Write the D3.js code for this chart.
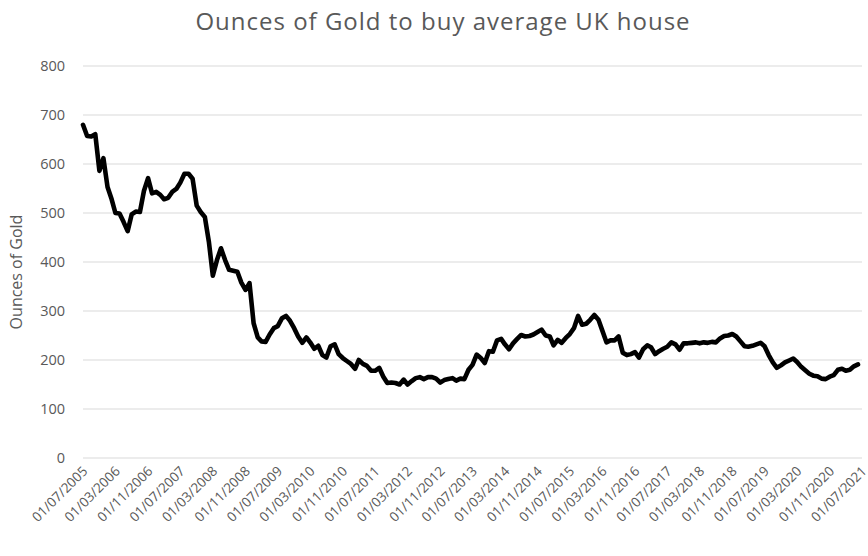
<!DOCTYPE html>
<html>
<head>
<meta charset="utf-8">
<script src="https://cdn.jsdelivr.net/npm/d3@7"></script>
<style>
  html, body { margin: 0; padding: 0; background: #fff; }
  svg { display: block; font-family: "Open Sans", Lato, sans-serif; }
</style>
</head>
<body>
<svg id="chart" width="868" height="556"></svg>
<script>
// Monthly series, first value is July 2005
const startMonth = "2005-07-01";
const ounces = [
  680, 657, 656, 661, 586, 612, 553, 528, 500, 499, 482, 463,
  497, 503, 502, 545, 571, 540, 543, 537, 528, 531, 543, 549,
  562, 580, 580, 570, 515, 502, 492, 440, 372, 404, 428, 404,
  384, 382, 380, 358, 343, 357, 275, 246, 238, 237, 252, 265,
  269, 285, 290, 280, 265, 248, 235, 246, 236, 223, 229, 210,
  205, 228, 232, 212, 204, 198, 192, 182, 200, 192, 188, 178,
  178, 184, 166, 153, 154, 153, 150, 160, 150, 157, 163, 165,
  161, 165, 165, 162, 154, 159, 161, 163, 158, 162, 161, 180,
  190, 211, 204, 194, 218, 217, 240, 243, 232, 222, 234, 243,
  251, 248, 249, 252, 257, 262, 250, 248, 230, 241, 235, 245,
  253, 265, 290, 272, 274, 282, 292, 282, 260, 236, 240, 240,
  248, 215, 210, 212, 216, 205, 222, 230, 226, 212, 218, 223,
  227, 236, 232, 221, 234, 234, 235, 236, 234, 236, 235, 237,
  236, 244, 249, 250, 253, 248, 238, 228, 227, 229, 232, 235,
  228, 210, 195, 184, 189, 195, 199, 203, 196, 186, 179, 172,
  168, 167, 162, 161, 166, 169, 180, 182, 178, 180, 187, 191
];
// Category labels on the date axis (every eighth month)
const tickLabels = [
  "01/07/2005", "01/03/2006", "01/11/2006", "01/07/2007", "01/03/2008",
  "01/11/2008", "01/07/2009", "01/03/2010", "01/11/2010", "01/07/2011",
  "01/03/2012", "01/11/2012", "01/07/2013", "01/03/2014", "01/11/2014",
  "01/07/2015", "01/03/2016", "01/11/2016", "01/07/2017", "01/03/2018",
  "01/11/2018", "01/07/2019", "01/03/2020", "01/11/2020", "01/07/2021"
];
const yTicks = [0, 100, 200, 300, 400, 500, 600, 700, 800];
const titleText = "Ounces of Gold to buy average UK house";
const yTitle = "Ounces of Gold";

const parseLabel = d3.timeParse("%d/%m/%Y");
const t0 = d3.timeParse("%Y-%m-%d")(startMonth);
const series = ounces.map((v, i) => ({ date: d3.timeMonth.offset(t0, i), value: v }));
const tickDates = tickLabels.map(parseLabel);

const svg = d3.select("#chart");
const plotLeft = 83, plotRight = 862, plotTop = 66, plotBottom = 458;
const font = "'Open Sans', Lato, sans-serif";

const x = d3.scaleTime()
  .domain([tickDates[0], tickDates[tickDates.length - 1]])
  .range([plotLeft, plotRight]);
const y = d3.scaleLinear().domain([0, 800]).range([plotBottom, plotTop]);

const grey = "#595959";

// Horizontal gridlines
svg.append("g")
  .selectAll("line")
  .data(yTicks)
  .join("line")
  .attr("x1", plotLeft).attr("x2", plotRight)
  .attr("y1", d => y(d)).attr("y2", d => y(d))
  .attr("stroke", "#d9d9d9")
  .attr("stroke-width", 1);

// Y axis labels
const yAxis = d3.axisLeft(y).tickValues(yTicks).tickSize(0).tickPadding(0);
svg.append("g")
  .attr("transform", `translate(${plotLeft - 18},0)`)
  .call(yAxis)
  .call(g => g.select(".domain").remove())
  .call(g => g.selectAll("text")
    .attr("fill", grey)
    .style("font-size", "14.5px")
    .style("font-family", font));

// X axis labels, rotated
const xAxis = d3.axisBottom(x)
  .tickValues(tickDates)
  .tickFormat((d, i) => tickLabels[i])
  .tickSize(0).tickPadding(0);
svg.append("g")
  .attr("transform", `translate(0,${plotBottom})`)
  .call(xAxis)
  .call(g => g.select(".domain").remove())
  .call(g => g.selectAll("text")
    .attr("fill", grey)
    .attr("text-anchor", "end")
    .attr("dy", null)
    .attr("y", null)
    .attr("transform", "translate(5,14) rotate(-45)")
    .style("font-size", "13.5px")
    .style("font-family", font));

// Data line
const line = d3.line()
  .x(d => x(d.date))
  .y(d => y(d.value));
svg.append("path")
  .datum(series)
  .attr("d", line)
  .attr("fill", "none")
  .attr("stroke", "#000")
  .attr("stroke-width", 4.6)
  .attr("stroke-linejoin", "round")
  .attr("stroke-linecap", "round");

// Title
svg.append("text")
  .attr("x", 443).attr("y", 30)
  .attr("text-anchor", "middle")
  .attr("fill", grey)
  .style("font-size", "24px")
  .style("letter-spacing", "1px")
  .style("font-family", font)
  .text(titleText);

// Y axis title
svg.append("text")
  .attr("transform", `translate(22,${(plotTop + plotBottom) / 2 + 10}) rotate(-90)`)
  .attr("text-anchor", "middle")
  .attr("fill", grey)
  .style("font-size", "16px")
  .style("font-family", font)
  .text(yTitle);
</script>
</body>
</html>
